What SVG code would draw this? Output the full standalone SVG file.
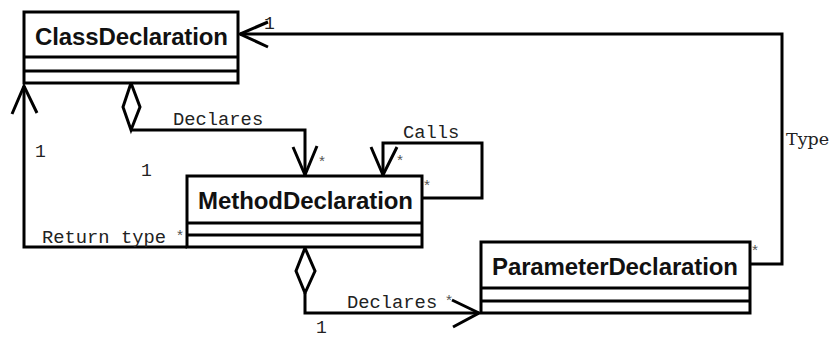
<svg xmlns="http://www.w3.org/2000/svg" width="832" height="338" viewBox="0 0 832 338">
<style>
.box{fill:#fff;stroke:#000;stroke-width:3}
.div{stroke:#000;stroke-width:3}
.name{font-family:"Liberation Sans",Arial,sans-serif;font-weight:bold;font-size:24px;fill:#111}
.ln{fill:none;stroke:#000;stroke-width:3}
.dia{fill:#fff;stroke:#000;stroke-width:3}
.lbl{font-family:"Liberation Mono","Courier New",monospace;font-size:18.8px;fill:#222}
.one{font-family:"Liberation Mono","Courier New",monospace;font-size:18px;fill:#222}
.star{font-family:"Liberation Mono","Courier New",monospace;font-size:15px;fill:#555;text-anchor:middle}
.type{font-family:"DejaVu Serif",serif;font-size:17.5px;fill:#222}
</style>
<rect width="832" height="338" fill="#fff"/>
<g id="connectors">
  <!-- Type -->
  <polyline class="ln" points="750,264 782,264 782,34 240,34"/>
  <polyline class="ln" points="268,22 240,34 268,47"/>
  <!-- Return type -->
  <polyline class="ln" points="187,247 24,247 24,86"/>
  <polyline class="ln" points="12,114 24,86 37,113"/>
  <!-- Declares class->method -->
  <polyline class="ln" points="131,130 305,130 305,175"/>
  <polygon class="dia" points="131,83 140,107 131,130 123,107"/>
  <polyline class="ln" points="293,147 305,175 317,146"/>
  <!-- Calls -->
  <polyline class="ln" points="422,198 482,198 482,143 383,143 383,175"/>
  <polyline class="ln" points="371,147 383,175 397,147"/>
  <!-- Declares method->parameter -->
  <polyline class="ln" points="305,293 305,313 479,313"/>
  <polygon class="dia" points="305,248 315,271 305,293 296,271"/>
  <polyline class="ln" points="452,300 479,313 453,327"/>
  <!-- labels -->
  <text class="type" x="786" y="145">Type</text>
  <text class="one" x="264" y="29" font-size="15">1</text>
  <text class="star" x="755" y="256">*</text>
  <text class="one" x="35" y="157">1</text>
  <text class="lbl" x="42" y="243">Return type</text>
  <text class="star" x="180" y="241">*</text>
  <text class="lbl" x="173" y="125">Declares</text>
  <text class="one" x="141" y="176">1</text>
  <text class="star" x="322" y="167">*</text>
  <text class="lbl" x="403" y="138">Calls</text>
  <text class="star" x="400" y="166">*</text>
  <text class="star" x="427" y="191">*</text>
  <text class="lbl" x="347" y="308">Declares</text>
  <text class="star" x="449" y="306">*</text>
  <text class="one" x="316" y="333">1</text>
</g>
<g id="ClassDeclaration">
  <rect class="box" x="24" y="12" width="214" height="71"/>
  <line class="div" x1="24" y1="57" x2="238" y2="57"/>
  <line class="div" x1="24" y1="71" x2="238" y2="71"/>
  <text class="name" x="35" y="45" textLength="193">ClassDeclaration</text>
</g>
<g id="MethodDeclaration">
  <rect class="box" x="187" y="176" width="235" height="71"/>
  <line class="div" x1="187" y1="223" x2="422" y2="223"/>
  <line class="div" x1="187" y1="235" x2="422" y2="235"/>
  <text class="name" x="198" y="209" textLength="215">MethodDeclaration</text>
</g>
<g id="ParameterDeclaration">
  <rect class="box" x="481" y="242" width="269" height="71"/>
  <line class="div" x1="481" y1="288" x2="750" y2="288"/>
  <line class="div" x1="481" y1="301" x2="750" y2="301"/>
  <text class="name" x="492" y="275" textLength="246">ParameterDeclaration</text>
</g>
</svg>
